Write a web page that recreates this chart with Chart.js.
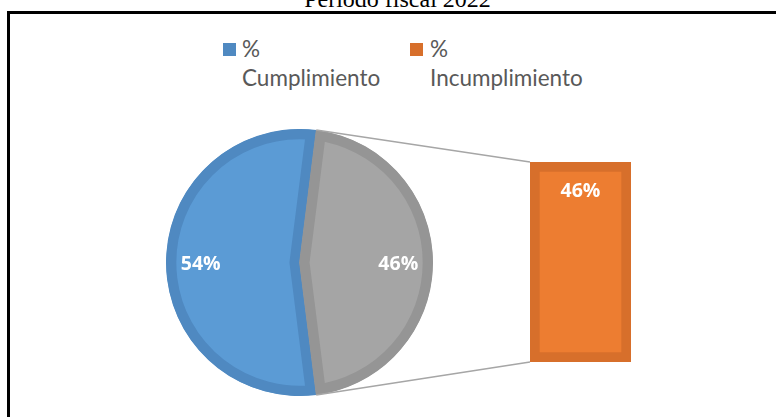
<!DOCTYPE html>
<html><head><meta charset="utf-8">
<script src="https://cdn.jsdelivr.net/npm/chart.js@4.4.1/dist/chart.umd.min.js"></script>
<style>
html,body{margin:0;padding:0;width:776px;height:417px;overflow:hidden;background:#fff;}
#frame{position:absolute;left:7px;top:11px;width:900px;height:600px;border-left:3px solid #000;border-top:3px solid #000;}
#title{position:absolute;left:0;width:795px;top:-13.5px;text-align:center;font:24px/24px "Liberation Serif","Times New Roman",serif;color:#000;white-space:nowrap;}
.leg{position:absolute;font-family:Lato,sans-serif;font-size:22.5px;line-height:29px;color:#595959;white-space:nowrap;}
.sw{position:absolute;width:13px;height:13px;}
#pieWrap{position:absolute;left:166px;top:129px;width:267px;height:267px;}
#barWrap{position:absolute;left:0;top:0;width:776px;height:417px;}
</style></head>
<body>
<div id="title">Período fiscal 2022</div>
<div id="frame"></div>
<div id="legend"></div>
<div id="pieWrap"><canvas id="pie"></canvas></div>
<div id="barWrap"><canvas id="bar"></canvas></div>
<script>
// ---- data ----
const categories = ['% Cumplimiento', '% Incumplimiento'];
const pieSlices = ['% Cumplimiento', 'Otro'];
const pieValues = [54, 46];
const barCategories = ['% Incumplimiento'];
const barValues = [46];

// ---- styles ----
const pieFill = ['#5B9BD5', '#A5A5A5'];
const pieBorder = ['#4F89C1', '#959595'];
const barFill = '#ED7D31';
const barBorder = '#D76F2B';
const legendSwatch = ['#4F89C1', '#D76F2B'];

// ---- legend (HTML) ----
const legendPos = [{sx:223, tx:242}, {sx:410, tx:430}];
const legendEl = document.getElementById('legend');
categories.forEach((c, i) => {
  const sw = document.createElement('div');
  sw.className = 'sw';
  sw.style.left = legendPos[i].sx + 'px';
  sw.style.top = '43px';
  sw.style.background = legendSwatch[i];
  legendEl.appendChild(sw);
  const t = document.createElement('div');
  t.className = 'leg';
  t.style.left = legendPos[i].tx + 'px';
  t.style.top = '34px';
  const parts = c.split(' ');
  t.innerHTML = parts[0] + '<br>' + parts.slice(1).join(' ');
  legendEl.appendChild(t);
});

const labelFont = 'bold 19.5px "Open Sans", sans-serif';

const pieLabelPlugin = {
  id: 'pieLabels',
  afterDatasetsDraw(chart) {
    const ctx = chart.ctx;
    const meta = chart.getDatasetMeta(0);
    ctx.save();
    ctx.font = labelFont;
    ctx.fillStyle = '#fff';
    ctx.textAlign = 'center';
    ctx.textBaseline = 'middle';
    meta.data.forEach((arc, i) => {
      const mid = (arc.startAngle + arc.endAngle) / 2;
      const r = arc.outerRadius * 0.74;
      ctx.fillText(pieValues[i] + '%', arc.x + Math.cos(mid) * r, arc.y + Math.sin(mid) * r + 1.5);
    });
    ctx.restore();
  }
};

// the "other" slice is centred on the right side (3 o'clock)
const pieRotation = 90 + (pieValues[1] / 100) * 180;

const pieChart = new Chart(document.getElementById('pie'), {
  type: 'pie',
  data: {
    labels: pieSlices,
    datasets: [{
      data: pieValues,
      backgroundColor: pieFill,
      borderColor: pieBorder,
      hoverBackgroundColor: pieFill,
      hoverBorderColor: pieBorder,
      borderWidth: 10,
      hoverBorderWidth: 10,
      borderAlign: 'inner',
      borderJoinStyle: 'miter',
      hoverOffset: 0,
      offset: 0
    }]
  },
  options: {
    responsive: true,
    maintainAspectRatio: false,
    animation: false,
    events: [],
    rotation: pieRotation,
    layout: { padding: 0 },
    plugins: { legend: { display: false }, tooltip: { enabled: false }, title: { display: false } }
  },
  plugins: [pieLabelPlugin]
});

const barPlugin = {
  id: 'barExtras',
  afterDatasetsDraw(chart) {
    const ctx = chart.ctx;
    const bar = chart.getDatasetMeta(0).data[0];
    const left = bar.x - bar.width / 2;
    const top = Math.min(bar.y, bar.base);
    const bottom = Math.max(bar.y, bar.base);
    ctx.save();
    ctx.font = labelFont;
    ctx.fillStyle = '#fff';
    ctx.textAlign = 'center';
    ctx.textBaseline = 'middle';
    ctx.fillText(barValues[0] + '%', bar.x, top + 29.5);
    // connector lines from the "other" pie slice edges to the bar
    const pr = pieChart.canvas.getBoundingClientRect();
    const br = chart.canvas.getBoundingClientRect();
    const ox = pr.left - br.left, oy = pr.top - br.top;
    const arc = pieChart.getDatasetMeta(0).data[1];
    const r = arc.outerRadius;
    const p1 = [ox + arc.x + Math.cos(arc.startAngle) * r, oy + arc.y + Math.sin(arc.startAngle) * r];
    const p2 = [ox + arc.x + Math.cos(arc.endAngle) * r, oy + arc.y + Math.sin(arc.endAngle) * r];
    ctx.strokeStyle = '#A6A6A6';
    ctx.lineWidth = 1.5;
    ctx.beginPath();
    ctx.moveTo(p1[0], p1[1]); ctx.lineTo(left, top);
    ctx.moveTo(p2[0], p2[1]); ctx.lineTo(left, bottom);
    ctx.stroke();
    ctx.restore();
  }
};

new Chart(document.getElementById('bar'), {
  type: 'bar',
  data: {
    labels: barCategories,
    datasets: [{
      data: barValues,
      backgroundColor: barFill,
      borderColor: barBorder,
      hoverBackgroundColor: barFill,
      hoverBorderColor: barBorder,
      borderWidth: 10,
      borderSkipped: false,
      categoryPercentage: 1,
      barPercentage: 1
    }]
  },
  options: {
    responsive: true,
    maintainAspectRatio: false,
    animation: false,
    events: [],
    layout: { padding: { left: 530, top: 162, right: 145, bottom: 55 } },
    scales: {
      x: { display: false },
      y: { display: false, min: 0, max: barValues[0] }
    },
    plugins: { legend: { display: false }, tooltip: { enabled: false }, title: { display: false } }
  },
  plugins: [barPlugin]
});
</script>
</body></html>
